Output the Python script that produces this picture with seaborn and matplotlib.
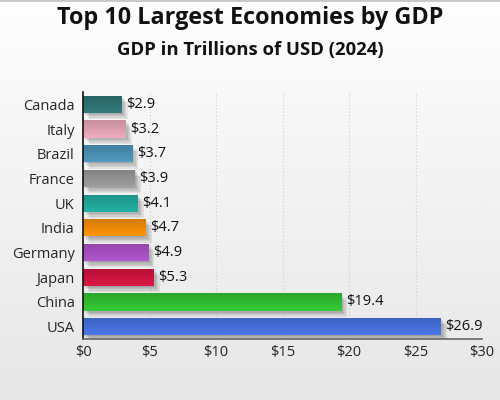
import numpy as np
import pandas as pd
import matplotlib
matplotlib.use("Agg")
import matplotlib.pyplot as plt
import matplotlib.patheffects as pe
from matplotlib.colors import to_rgb
import seaborn as sns

countries = ["Canada", "Italy", "Brazil", "France", "UK", "India", "Germany", "Japan", "China", "USA"]
gdp = [2.9, 3.2, 3.7, 3.9, 4.1, 4.7, 4.9, 5.3, 19.4, 26.9]
colors = ["#2E7373", "#E4A3B4", "#4A90B4", "#959595", "#20A89C", "#F28C05",
          "#A850C4", "#D01440", "#30C030", "#4570DE"]
xticks = [0, 5, 10, 15, 20, 25, 30]
xtick_labels = ["$0", "$5", "$10", "$15", "$20", "$25", "$30"]

df = pd.DataFrame({"country": countries, "gdp": gdp})

sns.set_style("white")
plt.rcParams["font.family"] = ["Open Sans", "DejaVu Sans"]

fig = plt.figure(figsize=(5, 4), dpi=100)
# background gradient
bg = fig.add_axes([0, 0, 1, 1], zorder=-10)
grad = np.linspace(0, 1, 256).reshape(-1, 1)
top_c = np.array([0.995, 0.995, 0.995])
bot_c = np.array([0.905, 0.905, 0.905])
img = top_c[None, None, :] * (1 - grad[..., None]) + bot_c[None, None, :] * grad[..., None]
bg.imshow(img, aspect="auto", extent=[0, 1, 0, 1])
bg.axhline(0.999, color="#c8c8c8", lw=2)
bg.set_xlim(0, 1); bg.set_ylim(0, 1)
bg.axis("off")

ax = fig.add_axes([0.166, 0.1525, 0.798, 0.6175])
ax.patch.set_alpha(0)
sns.barplot(data=df, x="gdp", y="country", hue="country", palette=colors,
            legend=False, width=0.7, ax=ax, saturation=1)

shadow = [pe.SimplePatchShadow(offset=(d, -d), shadow_rgbFace="#000000", alpha=0.07)
          for d in (4.5, 3.5, 2.5, 1.5, 0.5)]
for p in ax.patches:
    p.set_path_effects(shadow + [pe.Normal()])
    p.set_edgecolor("none")
    # gradient overlay: lighter top, darker bottom
    x0, y0 = p.get_x(), p.get_y()
    w, h = p.get_width(), p.get_height()
    base = np.array(to_rgb(p.get_facecolor()))
    t = np.linspace(0, 1, 64).reshape(-1, 1)
    light = np.clip(base * 1.04 + 0.015, 0, 1)
    dark = base * 0.87
    g = light[None, None, :] * (1 - t[..., None]) + dark[None, None, :] * t[..., None]
    im = ax.imshow(g, aspect="auto", extent=[x0, x0 + w, y0, y0 + h],
                   origin="upper", zorder=p.get_zorder() + 0.1)
    im.set_clip_path(p)

for i, v in enumerate(gdp):
    ax.text(v + 0.35, i, f"${v}", va="center", ha="left", fontsize=10.5, color="#111111")

ax.set_xlim(0, 30)
ax.set_ylim(9.5, -0.5)
ax.set_xticks(xticks)
ax.set_xticklabels(xtick_labels, fontsize=10.5)
ax.tick_params(axis="y", labelsize=10.5, length=0, pad=6)
ax.tick_params(axis="x", length=0, pad=4)
ax.set_xlabel("")
ax.set_ylabel("")
ax.xaxis.grid(True, linestyle=(0, (1, 2)), color="#cfcfcf", lw=0.8)
ax.set_axisbelow(True)
for s in ["top", "right"]:
    ax.spines[s].set_visible(False)
ax.spines["left"].set_color("#111111")
ax.spines["left"].set_linewidth(1.2)
ax.spines["bottom"].set_color("#666666")
ax.spines["bottom"].set_linewidth(1.2)

fig.text(0.5, 0.954, "Top 10 Largest Economies by GDP", ha="center", va="center",
         fontsize=16.8, fontweight="bold", color="#111111")
fig.text(0.5, 0.876, "GDP in Trillions of USD (2024)", ha="center", va="center",
         fontsize=13.3, fontweight="bold", color="#111111")

fig.savefig("out.png", dpi=100)
